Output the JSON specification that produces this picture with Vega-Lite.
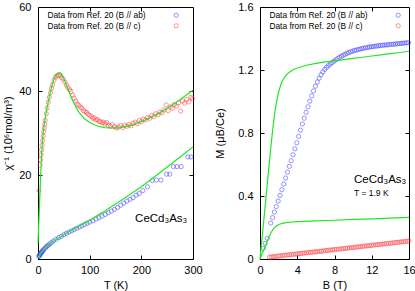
{
  "$schema": "https://vega.github.io/schema/vega-lite/v6.json",
  "padding": {"left": 2, "top": 0, "right": 2, "bottom": 2},
  "config": {
    "font": "Liberation Sans",
    "view": {"stroke": "#000", "strokeWidth": 1},
    "axis": {"domain": false, "grid": false, "tickColor": "#000", "tickSize": -4, "tickWidth": 1, "labelFontSize": 11, "labelColor": "#000", "titleFontSize": 11, "titleFontWeight": "normal", "titleColor": "#000", "labelFlush": false, "labelOverlap": false},
    "legend": {"orient": "none", "title": null, "labelFontSize": 8.4, "labelColor": "#000", "symbolStrokeWidth": 0.8, "symbolSize": 18, "labelOffset": -133, "rowPadding": 1.6, "labelLimit": 0, "symbolType": "circle"}
  },
  "datasets": {
    "note": [{"n": 1}],
    "chiPts": [
      {"T": 1.8, "chi": 0.6, "s": "Data from Ref. 20 (B // ab)"},
      {"T": 2.5, "chi": 0.8, "s": "Data from Ref. 20 (B // ab)"},
      {"T": 3, "chi": 0.9, "s": "Data from Ref. 20 (B // ab)"},
      {"T": 4, "chi": 1.1, "s": "Data from Ref. 20 (B // ab)"},
      {"T": 5, "chi": 1.3, "s": "Data from Ref. 20 (B // ab)"},
      {"T": 6, "chi": 1.5, "s": "Data from Ref. 20 (B // ab)"},
      {"T": 7, "chi": 1.6, "s": "Data from Ref. 20 (B // ab)"},
      {"T": 8, "chi": 1.8, "s": "Data from Ref. 20 (B // ab)"},
      {"T": 9, "chi": 1.9, "s": "Data from Ref. 20 (B // ab)"},
      {"T": 10, "chi": 2.1, "s": "Data from Ref. 20 (B // ab)"},
      {"T": 12, "chi": 2.4, "s": "Data from Ref. 20 (B // ab)"},
      {"T": 14, "chi": 2.6, "s": "Data from Ref. 20 (B // ab)"},
      {"T": 16, "chi": 2.9, "s": "Data from Ref. 20 (B // ab)"},
      {"T": 18, "chi": 3.1, "s": "Data from Ref. 20 (B // ab)"},
      {"T": 20, "chi": 3.3, "s": "Data from Ref. 20 (B // ab)"},
      {"T": 23, "chi": 3.6, "s": "Data from Ref. 20 (B // ab)"},
      {"T": 26, "chi": 3.9, "s": "Data from Ref. 20 (B // ab)"},
      {"T": 30, "chi": 4.3, "s": "Data from Ref. 20 (B // ab)"},
      {"T": 35, "chi": 4.7, "s": "Data from Ref. 20 (B // ab)"},
      {"T": 40, "chi": 5.1, "s": "Data from Ref. 20 (B // ab)"},
      {"T": 45, "chi": 5.4, "s": "Data from Ref. 20 (B // ab)"},
      {"T": 50, "chi": 5.8, "s": "Data from Ref. 20 (B // ab)"},
      {"T": 55, "chi": 6.1, "s": "Data from Ref. 20 (B // ab)"},
      {"T": 60, "chi": 6.4, "s": "Data from Ref. 20 (B // ab)"},
      {"T": 65, "chi": 6.7, "s": "Data from Ref. 20 (B // ab)"},
      {"T": 70, "chi": 7.0, "s": "Data from Ref. 20 (B // ab)"},
      {"T": 75, "chi": 7.3, "s": "Data from Ref. 20 (B // ab)"},
      {"T": 80, "chi": 7.6, "s": "Data from Ref. 20 (B // ab)"},
      {"T": 85, "chi": 7.9, "s": "Data from Ref. 20 (B // ab)"},
      {"T": 90, "chi": 8.2, "s": "Data from Ref. 20 (B // ab)"},
      {"T": 95, "chi": 8.5, "s": "Data from Ref. 20 (B // ab)"},
      {"T": 100, "chi": 8.8, "s": "Data from Ref. 20 (B // ab)"},
      {"T": 106, "chi": 9.1, "s": "Data from Ref. 20 (B // ab)"},
      {"T": 112, "chi": 9.5, "s": "Data from Ref. 20 (B // ab)"},
      {"T": 118, "chi": 9.8, "s": "Data from Ref. 20 (B // ab)"},
      {"T": 124, "chi": 10.2, "s": "Data from Ref. 20 (B // ab)"},
      {"T": 130, "chi": 10.6, "s": "Data from Ref. 20 (B // ab)"},
      {"T": 136, "chi": 11.0, "s": "Data from Ref. 20 (B // ab)"},
      {"T": 142, "chi": 11.4, "s": "Data from Ref. 20 (B // ab)"},
      {"T": 148, "chi": 11.8, "s": "Data from Ref. 20 (B // ab)"},
      {"T": 154, "chi": 12.3, "s": "Data from Ref. 20 (B // ab)"},
      {"T": 160, "chi": 12.8, "s": "Data from Ref. 20 (B // ab)"},
      {"T": 166, "chi": 13.3, "s": "Data from Ref. 20 (B // ab)"},
      {"T": 172, "chi": 13.8, "s": "Data from Ref. 20 (B // ab)"},
      {"T": 178, "chi": 14.2, "s": "Data from Ref. 20 (B // ab)"},
      {"T": 184, "chi": 14.6, "s": "Data from Ref. 20 (B // ab)"},
      {"T": 190, "chi": 15.2, "s": "Data from Ref. 20 (B // ab)"},
      {"T": 196, "chi": 15.6, "s": "Data from Ref. 20 (B // ab)"},
      {"T": 203, "chi": 16.3, "s": "Data from Ref. 20 (B // ab)"},
      {"T": 212, "chi": 17.2, "s": "Data from Ref. 20 (B // ab)"},
      {"T": 221, "chi": 18.7, "s": "Data from Ref. 20 (B // ab)"},
      {"T": 229, "chi": 18.8, "s": "Data from Ref. 20 (B // ab)"},
      {"T": 238, "chi": 18.8, "s": "Data from Ref. 20 (B // ab)"},
      {"T": 249, "chi": 20.2, "s": "Data from Ref. 20 (B // ab)"},
      {"T": 255, "chi": 20.2, "s": "Data from Ref. 20 (B // ab)"},
      {"T": 262, "chi": 22.0, "s": "Data from Ref. 20 (B // ab)"},
      {"T": 269, "chi": 22.0, "s": "Data from Ref. 20 (B // ab)"},
      {"T": 277, "chi": 22.0, "s": "Data from Ref. 20 (B // ab)"},
      {"T": 290, "chi": 24.3, "s": "Data from Ref. 20 (B // ab)"},
      {"T": 296, "chi": 24.3, "s": "Data from Ref. 20 (B // ab)"},
      {"T": 2, "chi": 16.3, "s": "Data from Ref. 20 (B // c)"},
      {"T": 4, "chi": 22.4, "s": "Data from Ref. 20 (B // c)"},
      {"T": 5, "chi": 23.6, "s": "Data from Ref. 20 (B // c)"},
      {"T": 6, "chi": 24.8, "s": "Data from Ref. 20 (B // c)"},
      {"T": 7, "chi": 26.0, "s": "Data from Ref. 20 (B // c)"},
      {"T": 8, "chi": 27.1, "s": "Data from Ref. 20 (B // c)"},
      {"T": 9, "chi": 28.2, "s": "Data from Ref. 20 (B // c)"},
      {"T": 10, "chi": 29.3, "s": "Data from Ref. 20 (B // c)"},
      {"T": 11, "chi": 30.3, "s": "Data from Ref. 20 (B // c)"},
      {"T": 12, "chi": 31.2, "s": "Data from Ref. 20 (B // c)"},
      {"T": 13, "chi": 32.1, "s": "Data from Ref. 20 (B // c)"},
      {"T": 14, "chi": 33.0, "s": "Data from Ref. 20 (B // c)"},
      {"T": 16, "chi": 34.6, "s": "Data from Ref. 20 (B // c)"},
      {"T": 18, "chi": 36.0, "s": "Data from Ref. 20 (B // c)"},
      {"T": 20, "chi": 37.3, "s": "Data from Ref. 20 (B // c)"},
      {"T": 22, "chi": 38.5, "s": "Data from Ref. 20 (B // c)"},
      {"T": 24, "chi": 39.6, "s": "Data from Ref. 20 (B // c)"},
      {"T": 26, "chi": 40.6, "s": "Data from Ref. 20 (B // c)"},
      {"T": 28, "chi": 41.5, "s": "Data from Ref. 20 (B // c)"},
      {"T": 31, "chi": 42.6, "s": "Data from Ref. 20 (B // c)"},
      {"T": 34, "chi": 43.3, "s": "Data from Ref. 20 (B // c)"},
      {"T": 37, "chi": 43.7, "s": "Data from Ref. 20 (B // c)"},
      {"T": 40, "chi": 43.6, "s": "Data from Ref. 20 (B // c)"},
      {"T": 43, "chi": 43.8, "s": "Data from Ref. 20 (B // c)"},
      {"T": 46, "chi": 43.2, "s": "Data from Ref. 20 (B // c)"},
      {"T": 49, "chi": 42.8, "s": "Data from Ref. 20 (B // c)"},
      {"T": 52, "chi": 42.1, "s": "Data from Ref. 20 (B // c)"},
      {"T": 55, "chi": 41.4, "s": "Data from Ref. 20 (B // c)"},
      {"T": 58, "chi": 40.8, "s": "Data from Ref. 20 (B // c)"},
      {"T": 61, "chi": 40.3, "s": "Data from Ref. 20 (B // c)"},
      {"T": 64, "chi": 39.9, "s": "Data from Ref. 20 (B // c)"},
      {"T": 67, "chi": 39.0, "s": "Data from Ref. 20 (B // c)"},
      {"T": 70, "chi": 38.3, "s": "Data from Ref. 20 (B // c)"},
      {"T": 73, "chi": 37.6, "s": "Data from Ref. 20 (B // c)"},
      {"T": 76, "chi": 36.9, "s": "Data from Ref. 20 (B // c)"},
      {"T": 79, "chi": 36.6, "s": "Data from Ref. 20 (B // c)"},
      {"T": 82, "chi": 36.2, "s": "Data from Ref. 20 (B // c)"},
      {"T": 85, "chi": 35.9, "s": "Data from Ref. 20 (B // c)"},
      {"T": 88, "chi": 35.3, "s": "Data from Ref. 20 (B // c)"},
      {"T": 91, "chi": 35.1, "s": "Data from Ref. 20 (B // c)"},
      {"T": 94, "chi": 34.9, "s": "Data from Ref. 20 (B // c)"},
      {"T": 97, "chi": 34.5, "s": "Data from Ref. 20 (B // c)"},
      {"T": 100, "chi": 34.2, "s": "Data from Ref. 20 (B // c)"},
      {"T": 103, "chi": 33.9, "s": "Data from Ref. 20 (B // c)"},
      {"T": 106, "chi": 33.5, "s": "Data from Ref. 20 (B // c)"},
      {"T": 109, "chi": 33.6, "s": "Data from Ref. 20 (B // c)"},
      {"T": 112, "chi": 33.1, "s": "Data from Ref. 20 (B // c)"},
      {"T": 115, "chi": 33.2, "s": "Data from Ref. 20 (B // c)"},
      {"T": 118, "chi": 32.8, "s": "Data from Ref. 20 (B // c)"},
      {"T": 121, "chi": 32.7, "s": "Data from Ref. 20 (B // c)"},
      {"T": 124, "chi": 32.4, "s": "Data from Ref. 20 (B // c)"},
      {"T": 127, "chi": 32.6, "s": "Data from Ref. 20 (B // c)"},
      {"T": 130, "chi": 32.2, "s": "Data from Ref. 20 (B // c)"},
      {"T": 133, "chi": 32.5, "s": "Data from Ref. 20 (B // c)"},
      {"T": 136, "chi": 31.9, "s": "Data from Ref. 20 (B // c)"},
      {"T": 140, "chi": 31.6, "s": "Data from Ref. 20 (B // c)"},
      {"T": 144, "chi": 32.0, "s": "Data from Ref. 20 (B // c)"},
      {"T": 148, "chi": 31.5, "s": "Data from Ref. 20 (B // c)"},
      {"T": 152, "chi": 31.2, "s": "Data from Ref. 20 (B // c)"},
      {"T": 156, "chi": 31.4, "s": "Data from Ref. 20 (B // c)"},
      {"T": 160, "chi": 31.8, "s": "Data from Ref. 20 (B // c)"},
      {"T": 164, "chi": 31.3, "s": "Data from Ref. 20 (B // c)"},
      {"T": 168, "chi": 31.9, "s": "Data from Ref. 20 (B // c)"},
      {"T": 172, "chi": 31.6, "s": "Data from Ref. 20 (B // c)"},
      {"T": 176, "chi": 32.0, "s": "Data from Ref. 20 (B // c)"},
      {"T": 180, "chi": 31.7, "s": "Data from Ref. 20 (B // c)"},
      {"T": 184, "chi": 32.3, "s": "Data from Ref. 20 (B // c)"},
      {"T": 188, "chi": 32.6, "s": "Data from Ref. 20 (B // c)"},
      {"T": 192, "chi": 32.2, "s": "Data from Ref. 20 (B // c)"},
      {"T": 196, "chi": 33.0, "s": "Data from Ref. 20 (B // c)"},
      {"T": 200, "chi": 32.7, "s": "Data from Ref. 20 (B // c)"},
      {"T": 204, "chi": 33.3, "s": "Data from Ref. 20 (B // c)"},
      {"T": 208, "chi": 33.1, "s": "Data from Ref. 20 (B // c)"},
      {"T": 212, "chi": 33.7, "s": "Data from Ref. 20 (B // c)"},
      {"T": 216, "chi": 33.5, "s": "Data from Ref. 20 (B // c)"},
      {"T": 220, "chi": 34.2, "s": "Data from Ref. 20 (B // c)"},
      {"T": 224, "chi": 33.9, "s": "Data from Ref. 20 (B // c)"},
      {"T": 228, "chi": 34.6, "s": "Data from Ref. 20 (B // c)"},
      {"T": 232, "chi": 34.3, "s": "Data from Ref. 20 (B // c)"},
      {"T": 236, "chi": 35.0, "s": "Data from Ref. 20 (B // c)"},
      {"T": 240, "chi": 34.8, "s": "Data from Ref. 20 (B // c)"},
      {"T": 244, "chi": 35.5, "s": "Data from Ref. 20 (B // c)"},
      {"T": 248, "chi": 36.7, "s": "Data from Ref. 20 (B // c)"},
      {"T": 252, "chi": 35.3, "s": "Data from Ref. 20 (B // c)"},
      {"T": 256, "chi": 36.2, "s": "Data from Ref. 20 (B // c)"},
      {"T": 260, "chi": 35.9, "s": "Data from Ref. 20 (B // c)"},
      {"T": 264, "chi": 36.8, "s": "Data from Ref. 20 (B // c)"},
      {"T": 268, "chi": 36.4, "s": "Data from Ref. 20 (B // c)"},
      {"T": 272, "chi": 37.2, "s": "Data from Ref. 20 (B // c)"},
      {"T": 276, "chi": 35.2, "s": "Data from Ref. 20 (B // c)"},
      {"T": 280, "chi": 37.6, "s": "Data from Ref. 20 (B // c)"},
      {"T": 284, "chi": 37.1, "s": "Data from Ref. 20 (B // c)"},
      {"T": 288, "chi": 38.0, "s": "Data from Ref. 20 (B // c)"},
      {"T": 292, "chi": 37.4, "s": "Data from Ref. 20 (B // c)"},
      {"T": 296, "chi": 38.5, "s": "Data from Ref. 20 (B // c)"},
      {"T": 299, "chi": 38.2, "s": "Data from Ref. 20 (B // c)"}
    ],
    "chiFit": [
      {"T": 0, "chi": 0.3, "c": "ab"}, {"T": 2, "chi": 0.8, "c": "ab"}, {"T": 5, "chi": 1.4, "c": "ab"}, {"T": 10, "chi": 2.2, "c": "ab"},
      {"T": 20, "chi": 3.3, "c": "ab"}, {"T": 30, "chi": 4.2, "c": "ab"}, {"T": 40, "chi": 5.0, "c": "ab"}, {"T": 50, "chi": 5.8, "c": "ab"},
      {"T": 60, "chi": 6.5, "c": "ab"}, {"T": 70, "chi": 7.2, "c": "ab"}, {"T": 80, "chi": 7.9, "c": "ab"}, {"T": 90, "chi": 8.6, "c": "ab"},
      {"T": 100, "chi": 9.2, "c": "ab"}, {"T": 125, "chi": 11.1, "c": "ab"}, {"T": 150, "chi": 13.1, "c": "ab"}, {"T": 175, "chi": 15.1, "c": "ab"},
      {"T": 200, "chi": 17.2, "c": "ab"}, {"T": 225, "chi": 19.5, "c": "ab"}, {"T": 250, "chi": 21.9, "c": "ab"}, {"T": 275, "chi": 24.3, "c": "ab"},
      {"T": 300, "chi": 26.7, "c": "ab"},
      {"T": 0, "chi": 3.7, "c": "c"}, {"T": 1, "chi": 6.8, "c": "c"}, {"T": 2, "chi": 10.0, "c": "c"}, {"T": 3, "chi": 13.2, "c": "c"},
      {"T": 4, "chi": 16.3, "c": "c"}, {"T": 5, "chi": 19.4, "c": "c"}, {"T": 6, "chi": 22.3, "c": "c"}, {"T": 7, "chi": 24.9, "c": "c"},
      {"T": 8, "chi": 27.0, "c": "c"}, {"T": 9, "chi": 28.6, "c": "c"}, {"T": 10, "chi": 29.9, "c": "c"}, {"T": 12, "chi": 31.9, "c": "c"},
      {"T": 15, "chi": 34.3, "c": "c"}, {"T": 18, "chi": 36.3, "c": "c"}, {"T": 21, "chi": 38.1, "c": "c"}, {"T": 24, "chi": 39.8, "c": "c"},
      {"T": 27, "chi": 41.3, "c": "c"}, {"T": 30, "chi": 42.5, "c": "c"}, {"T": 33, "chi": 43.4, "c": "c"}, {"T": 36, "chi": 44.0, "c": "c"},
      {"T": 39, "chi": 44.3, "c": "c"}, {"T": 42, "chi": 44.3, "c": "c"}, {"T": 45, "chi": 44.0, "c": "c"}, {"T": 48, "chi": 43.4, "c": "c"},
      {"T": 51, "chi": 42.6, "c": "c"}, {"T": 54, "chi": 41.7, "c": "c"}, {"T": 57, "chi": 40.7, "c": "c"}, {"T": 60, "chi": 39.8, "c": "c"},
      {"T": 65, "chi": 38.3, "c": "c"}, {"T": 70, "chi": 37.0, "c": "c"}, {"T": 75, "chi": 35.8, "c": "c"}, {"T": 80, "chi": 34.8, "c": "c"},
      {"T": 90, "chi": 33.4, "c": "c"}, {"T": 100, "chi": 32.5, "c": "c"}, {"T": 110, "chi": 31.9, "c": "c"}, {"T": 120, "chi": 31.5, "c": "c"},
      {"T": 130, "chi": 31.3, "c": "c"}, {"T": 140, "chi": 31.2, "c": "c"}, {"T": 150, "chi": 31.2, "c": "c"}, {"T": 160, "chi": 31.3, "c": "c"},
      {"T": 170, "chi": 31.5, "c": "c"}, {"T": 180, "chi": 31.8, "c": "c"}, {"T": 190, "chi": 32.2, "c": "c"}, {"T": 200, "chi": 32.7, "c": "c"},
      {"T": 210, "chi": 33.2, "c": "c"}, {"T": 220, "chi": 33.8, "c": "c"}, {"T": 230, "chi": 34.4, "c": "c"}, {"T": 240, "chi": 35.1, "c": "c"},
      {"T": 250, "chi": 35.9, "c": "c"}, {"T": 260, "chi": 36.7, "c": "c"}, {"T": 270, "chi": 37.5, "c": "c"}, {"T": 280, "chi": 38.4, "c": "c"},
      {"T": 290, "chi": 39.3, "c": "c"}, {"T": 300, "chi": 40.2, "c": "c"}
    ],
    "magPts": [
      {"B": 0.35, "M": 0.067, "s": "Data from Ref. 20 (B // ab)"}, {"B": 0.55, "M": 0.099, "s": "Data from Ref. 20 (B // ab)"}, {"B": 0.78, "M": 0.131, "s": "Data from Ref. 20 (B // ab)"},
      {"B": 1.15, "M": 0.228, "s": "Data from Ref. 20 (B // ab)"}, {"B": 1.35, "M": 0.263, "s": "Data from Ref. 20 (B // ab)"}, {"B": 1.55, "M": 0.298, "s": "Data from Ref. 20 (B // ab)"},
      {"B": 1.75, "M": 0.333, "s": "Data from Ref. 20 (B // ab)"}, {"B": 1.95, "M": 0.368, "s": "Data from Ref. 20 (B // ab)"}, {"B": 2.15, "M": 0.404, "s": "Data from Ref. 20 (B // ab)"},
      {"B": 2.35, "M": 0.440, "s": "Data from Ref. 20 (B // ab)"}, {"B": 2.55, "M": 0.476, "s": "Data from Ref. 20 (B // ab)"}, {"B": 2.75, "M": 0.514, "s": "Data from Ref. 20 (B // ab)"},
      {"B": 2.95, "M": 0.551, "s": "Data from Ref. 20 (B // ab)"}, {"B": 3.15, "M": 0.588, "s": "Data from Ref. 20 (B // ab)"}, {"B": 3.35, "M": 0.624, "s": "Data from Ref. 20 (B // ab)"},
      {"B": 3.55, "M": 0.662, "s": "Data from Ref. 20 (B // ab)"}, {"B": 3.75, "M": 0.700, "s": "Data from Ref. 20 (B // ab)"}, {"B": 3.95, "M": 0.738, "s": "Data from Ref. 20 (B // ab)"},
      {"B": 4.15, "M": 0.778, "s": "Data from Ref. 20 (B // ab)"}, {"B": 4.35, "M": 0.818, "s": "Data from Ref. 20 (B // ab)"}, {"B": 4.55, "M": 0.857, "s": "Data from Ref. 20 (B // ab)"},
      {"B": 4.75, "M": 0.894, "s": "Data from Ref. 20 (B // ab)"}, {"B": 4.95, "M": 0.931, "s": "Data from Ref. 20 (B // ab)"}, {"B": 5.15, "M": 0.966, "s": "Data from Ref. 20 (B // ab)"},
      {"B": 5.35, "M": 1.002, "s": "Data from Ref. 20 (B // ab)"}, {"B": 5.55, "M": 1.036, "s": "Data from Ref. 20 (B // ab)"}, {"B": 5.75, "M": 1.067, "s": "Data from Ref. 20 (B // ab)"},
      {"B": 5.95, "M": 1.097, "s": "Data from Ref. 20 (B // ab)"}, {"B": 6.15, "M": 1.124, "s": "Data from Ref. 20 (B // ab)"}, {"B": 6.35, "M": 1.148, "s": "Data from Ref. 20 (B // ab)"},
      {"B": 6.55, "M": 1.170, "s": "Data from Ref. 20 (B // ab)"}, {"B": 6.75, "M": 1.188, "s": "Data from Ref. 20 (B // ab)"}, {"B": 6.95, "M": 1.204, "s": "Data from Ref. 20 (B // ab)"},
      {"B": 7.15, "M": 1.217, "s": "Data from Ref. 20 (B // ab)"}, {"B": 7.35, "M": 1.228, "s": "Data from Ref. 20 (B // ab)"}, {"B": 7.55, "M": 1.238, "s": "Data from Ref. 20 (B // ab)"},
      {"B": 7.75, "M": 1.247, "s": "Data from Ref. 20 (B // ab)"}, {"B": 7.95, "M": 1.256, "s": "Data from Ref. 20 (B // ab)"}, {"B": 8.15, "M": 1.265, "s": "Data from Ref. 20 (B // ab)"},
      {"B": 8.35, "M": 1.273, "s": "Data from Ref. 20 (B // ab)"}, {"B": 8.55, "M": 1.281, "s": "Data from Ref. 20 (B // ab)"}, {"B": 8.75, "M": 1.288, "s": "Data from Ref. 20 (B // ab)"},
      {"B": 8.95, "M": 1.294, "s": "Data from Ref. 20 (B // ab)"}, {"B": 9.15, "M": 1.300, "s": "Data from Ref. 20 (B // ab)"}, {"B": 9.35, "M": 1.306, "s": "Data from Ref. 20 (B // ab)"},
      {"B": 9.55, "M": 1.311, "s": "Data from Ref. 20 (B // ab)"}, {"B": 9.75, "M": 1.316, "s": "Data from Ref. 20 (B // ab)"}, {"B": 9.95, "M": 1.320, "s": "Data from Ref. 20 (B // ab)"},
      {"B": 10.15, "M": 1.324, "s": "Data from Ref. 20 (B // ab)"}, {"B": 10.35, "M": 1.327, "s": "Data from Ref. 20 (B // ab)"}, {"B": 10.55, "M": 1.330, "s": "Data from Ref. 20 (B // ab)"},
      {"B": 10.75, "M": 1.333, "s": "Data from Ref. 20 (B // ab)"}, {"B": 10.95, "M": 1.336, "s": "Data from Ref. 20 (B // ab)"}, {"B": 11.15, "M": 1.339, "s": "Data from Ref. 20 (B // ab)"},
      {"B": 11.35, "M": 1.341, "s": "Data from Ref. 20 (B // ab)"}, {"B": 11.55, "M": 1.343, "s": "Data from Ref. 20 (B // ab)"}, {"B": 11.75, "M": 1.346, "s": "Data from Ref. 20 (B // ab)"},
      {"B": 11.95, "M": 1.348, "s": "Data from Ref. 20 (B // ab)"}, {"B": 12.15, "M": 1.349, "s": "Data from Ref. 20 (B // ab)"}, {"B": 12.35, "M": 1.351, "s": "Data from Ref. 20 (B // ab)"},
      {"B": 12.55, "M": 1.352, "s": "Data from Ref. 20 (B // ab)"}, {"B": 12.75, "M": 1.354, "s": "Data from Ref. 20 (B // ab)"}, {"B": 12.95, "M": 1.356, "s": "Data from Ref. 20 (B // ab)"},
      {"B": 13.15, "M": 1.357, "s": "Data from Ref. 20 (B // ab)"}, {"B": 13.35, "M": 1.358, "s": "Data from Ref. 20 (B // ab)"}, {"B": 13.55, "M": 1.359, "s": "Data from Ref. 20 (B // ab)"},
      {"B": 13.75, "M": 1.360, "s": "Data from Ref. 20 (B // ab)"}, {"B": 13.95, "M": 1.362, "s": "Data from Ref. 20 (B // ab)"}, {"B": 14.15, "M": 1.363, "s": "Data from Ref. 20 (B // ab)"},
      {"B": 14.35, "M": 1.364, "s": "Data from Ref. 20 (B // ab)"}, {"B": 14.55, "M": 1.365, "s": "Data from Ref. 20 (B // ab)"}, {"B": 14.75, "M": 1.366, "s": "Data from Ref. 20 (B // ab)"},
      {"B": 14.95, "M": 1.368, "s": "Data from Ref. 20 (B // ab)"}, {"B": 15.15, "M": 1.369, "s": "Data from Ref. 20 (B // ab)"}, {"B": 15.35, "M": 1.370, "s": "Data from Ref. 20 (B // ab)"},
      {"B": 15.55, "M": 1.371, "s": "Data from Ref. 20 (B // ab)"}, {"B": 15.75, "M": 1.372, "s": "Data from Ref. 20 (B // ab)"}, {"B": 15.95, "M": 1.374, "s": "Data from Ref. 20 (B // ab)"},
      {"B": 1.0, "M": 0.012, "s": "Data from Ref. 20 (B // c)"}, {"B": 1.2, "M": 0.013, "s": "Data from Ref. 20 (B // c)"}, {"B": 1.4, "M": 0.015, "s": "Data from Ref. 20 (B // c)"},
      {"B": 1.6, "M": 0.016, "s": "Data from Ref. 20 (B // c)"}, {"B": 1.8, "M": 0.017, "s": "Data from Ref. 20 (B // c)"}, {"B": 2.0, "M": 0.019, "s": "Data from Ref. 20 (B // c)"},
      {"B": 2.2, "M": 0.020, "s": "Data from Ref. 20 (B // c)"}, {"B": 2.4, "M": 0.022, "s": "Data from Ref. 20 (B // c)"}, {"B": 2.6, "M": 0.023, "s": "Data from Ref. 20 (B // c)"},
      {"B": 2.8, "M": 0.024, "s": "Data from Ref. 20 (B // c)"}, {"B": 3.0, "M": 0.026, "s": "Data from Ref. 20 (B // c)"}, {"B": 3.2, "M": 0.027, "s": "Data from Ref. 20 (B // c)"},
      {"B": 3.4, "M": 0.028, "s": "Data from Ref. 20 (B // c)"}, {"B": 3.6, "M": 0.030, "s": "Data from Ref. 20 (B // c)"}, {"B": 3.8, "M": 0.031, "s": "Data from Ref. 20 (B // c)"},
      {"B": 4.0, "M": 0.032, "s": "Data from Ref. 20 (B // c)"}, {"B": 4.2, "M": 0.034, "s": "Data from Ref. 20 (B // c)"}, {"B": 4.4, "M": 0.035, "s": "Data from Ref. 20 (B // c)"},
      {"B": 4.6, "M": 0.037, "s": "Data from Ref. 20 (B // c)"}, {"B": 4.8, "M": 0.038, "s": "Data from Ref. 20 (B // c)"}, {"B": 5.0, "M": 0.039, "s": "Data from Ref. 20 (B // c)"},
      {"B": 5.2, "M": 0.041, "s": "Data from Ref. 20 (B // c)"}, {"B": 5.4, "M": 0.042, "s": "Data from Ref. 20 (B // c)"}, {"B": 5.6, "M": 0.043, "s": "Data from Ref. 20 (B // c)"},
      {"B": 5.8, "M": 0.045, "s": "Data from Ref. 20 (B // c)"}, {"B": 6.0, "M": 0.046, "s": "Data from Ref. 20 (B // c)"}, {"B": 6.2, "M": 0.047, "s": "Data from Ref. 20 (B // c)"},
      {"B": 6.4, "M": 0.049, "s": "Data from Ref. 20 (B // c)"}, {"B": 6.6, "M": 0.050, "s": "Data from Ref. 20 (B // c)"}, {"B": 6.8, "M": 0.051, "s": "Data from Ref. 20 (B // c)"},
      {"B": 7.0, "M": 0.053, "s": "Data from Ref. 20 (B // c)"}, {"B": 7.2, "M": 0.054, "s": "Data from Ref. 20 (B // c)"}, {"B": 7.4, "M": 0.056, "s": "Data from Ref. 20 (B // c)"},
      {"B": 7.6, "M": 0.057, "s": "Data from Ref. 20 (B // c)"}, {"B": 7.8, "M": 0.058, "s": "Data from Ref. 20 (B // c)"}, {"B": 8.0, "M": 0.060, "s": "Data from Ref. 20 (B // c)"},
      {"B": 8.2, "M": 0.061, "s": "Data from Ref. 20 (B // c)"}, {"B": 8.4, "M": 0.062, "s": "Data from Ref. 20 (B // c)"}, {"B": 8.6, "M": 0.064, "s": "Data from Ref. 20 (B // c)"},
      {"B": 8.8, "M": 0.065, "s": "Data from Ref. 20 (B // c)"}, {"B": 9.0, "M": 0.066, "s": "Data from Ref. 20 (B // c)"}, {"B": 9.2, "M": 0.068, "s": "Data from Ref. 20 (B // c)"},
      {"B": 9.4, "M": 0.069, "s": "Data from Ref. 20 (B // c)"}, {"B": 9.6, "M": 0.071, "s": "Data from Ref. 20 (B // c)"}, {"B": 9.8, "M": 0.072, "s": "Data from Ref. 20 (B // c)"},
      {"B": 10.0, "M": 0.073, "s": "Data from Ref. 20 (B // c)"}, {"B": 10.2, "M": 0.075, "s": "Data from Ref. 20 (B // c)"}, {"B": 10.4, "M": 0.076, "s": "Data from Ref. 20 (B // c)"},
      {"B": 10.6, "M": 0.077, "s": "Data from Ref. 20 (B // c)"}, {"B": 10.8, "M": 0.079, "s": "Data from Ref. 20 (B // c)"}, {"B": 11.0, "M": 0.080, "s": "Data from Ref. 20 (B // c)"},
      {"B": 11.2, "M": 0.081, "s": "Data from Ref. 20 (B // c)"}, {"B": 11.4, "M": 0.083, "s": "Data from Ref. 20 (B // c)"}, {"B": 11.6, "M": 0.084, "s": "Data from Ref. 20 (B // c)"},
      {"B": 11.8, "M": 0.085, "s": "Data from Ref. 20 (B // c)"}, {"B": 12.0, "M": 0.087, "s": "Data from Ref. 20 (B // c)"}, {"B": 12.2, "M": 0.088, "s": "Data from Ref. 20 (B // c)"},
      {"B": 12.4, "M": 0.090, "s": "Data from Ref. 20 (B // c)"}, {"B": 12.6, "M": 0.091, "s": "Data from Ref. 20 (B // c)"}, {"B": 12.8, "M": 0.092, "s": "Data from Ref. 20 (B // c)"},
      {"B": 13.0, "M": 0.094, "s": "Data from Ref. 20 (B // c)"}, {"B": 13.2, "M": 0.095, "s": "Data from Ref. 20 (B // c)"}, {"B": 13.4, "M": 0.096, "s": "Data from Ref. 20 (B // c)"},
      {"B": 13.6, "M": 0.098, "s": "Data from Ref. 20 (B // c)"}, {"B": 13.8, "M": 0.099, "s": "Data from Ref. 20 (B // c)"}, {"B": 14.0, "M": 0.100, "s": "Data from Ref. 20 (B // c)"},
      {"B": 14.2, "M": 0.102, "s": "Data from Ref. 20 (B // c)"}, {"B": 14.4, "M": 0.103, "s": "Data from Ref. 20 (B // c)"}, {"B": 14.6, "M": 0.105, "s": "Data from Ref. 20 (B // c)"},
      {"B": 14.8, "M": 0.106, "s": "Data from Ref. 20 (B // c)"}, {"B": 15.0, "M": 0.107, "s": "Data from Ref. 20 (B // c)"}, {"B": 15.2, "M": 0.109, "s": "Data from Ref. 20 (B // c)"},
      {"B": 15.4, "M": 0.110, "s": "Data from Ref. 20 (B // c)"}, {"B": 15.6, "M": 0.111, "s": "Data from Ref. 20 (B // c)"}, {"B": 15.8, "M": 0.113, "s": "Data from Ref. 20 (B // c)"},
      {"B": 16.0, "M": 0.114, "s": "Data from Ref. 20 (B // c)"}
    ],
    "magFit": [
      {"B": 0, "M": 0, "c": "ab"}, {"B": 0.2, "M": 0.12, "c": "ab"}, {"B": 0.4, "M": 0.24, "c": "ab"}, {"B": 0.6, "M": 0.365, "c": "ab"},
      {"B": 0.8, "M": 0.49, "c": "ab"}, {"B": 1.0, "M": 0.61, "c": "ab"}, {"B": 1.2, "M": 0.73, "c": "ab"}, {"B": 1.4, "M": 0.84, "c": "ab"},
      {"B": 1.6, "M": 0.935, "c": "ab"}, {"B": 1.8, "M": 1.005, "c": "ab"}, {"B": 2.0, "M": 1.06, "c": "ab"}, {"B": 2.2, "M": 1.10, "c": "ab"},
      {"B": 2.4, "M": 1.13, "c": "ab"}, {"B": 2.7, "M": 1.16, "c": "ab"}, {"B": 3.0, "M": 1.18, "c": "ab"}, {"B": 3.5, "M": 1.20, "c": "ab"},
      {"B": 4, "M": 1.213, "c": "ab"}, {"B": 5, "M": 1.23, "c": "ab"}, {"B": 6, "M": 1.242, "c": "ab"}, {"B": 7, "M": 1.251, "c": "ab"},
      {"B": 8, "M": 1.258, "c": "ab"}, {"B": 9, "M": 1.266, "c": "ab"}, {"B": 10, "M": 1.274, "c": "ab"}, {"B": 11, "M": 1.281, "c": "ab"},
      {"B": 12, "M": 1.289, "c": "ab"}, {"B": 13, "M": 1.296, "c": "ab"}, {"B": 14, "M": 1.304, "c": "ab"}, {"B": 15, "M": 1.311, "c": "ab"},
      {"B": 16, "M": 1.319, "c": "ab"},
      {"B": 0, "M": 0, "c": "c"}, {"B": 0.25, "M": 0.036, "c": "c"}, {"B": 0.5, "M": 0.072, "c": "c"}, {"B": 0.75, "M": 0.108, "c": "c"},
      {"B": 1.0, "M": 0.145, "c": "c"}, {"B": 1.25, "M": 0.174, "c": "c"}, {"B": 1.5, "M": 0.196, "c": "c"}, {"B": 1.75, "M": 0.209, "c": "c"},
      {"B": 2.0, "M": 0.218, "c": "c"}, {"B": 2.25, "M": 0.224, "c": "c"}, {"B": 2.5, "M": 0.228, "c": "c"}, {"B": 3, "M": 0.232, "c": "c"},
      {"B": 3.5, "M": 0.235, "c": "c"}, {"B": 4, "M": 0.237, "c": "c"}, {"B": 6, "M": 0.242, "c": "c"}, {"B": 8, "M": 0.246, "c": "c"},
      {"B": 10, "M": 0.251, "c": "c"}, {"B": 12, "M": 0.255, "c": "c"}, {"B": 14, "M": 0.259, "c": "c"}, {"B": 16, "M": 0.264, "c": "c"}
    ]
  },
  "hconcat": [
    {
      "width": 155,
      "height": 252,
      "layer": [
        {
          "data": {"name": "chiPts"},
          "mark": {"type": "point", "shape": "circle", "filled": false, "size": 18, "strokeWidth": 0.8},
          "encoding": {
            "x": {"field": "T", "type": "quantitative", "scale": {"domain": [0, 300], "nice": false}, "axis": {"values": [0, 100, 200, 300], "title": "T (K)", "labelPadding": 9, "titlePadding": 4}},
            "y": {"field": "chi", "type": "quantitative", "scale": {"domain": [0, 60], "nice": false}, "axis": {"values": [0, 20, 40, 60], "title": "χ⁻¹ (10⁶mol/m³)", "labelPadding": 11, "titlePadding": 5}},
            "color": {"field": "s", "type": "nominal", "scale": {"domain": ["Data from Ref. 20 (B // ab)", "Data from Ref. 20 (B // c)"], "range": ["#4040ff", "#ff4040"]}, "legend": {"title": null, "legendX": 134, "legendY": 4}}
          }
        },
        {
          "data": {"name": "chiFit"},
          "mark": {"type": "line", "color": "#22e622", "strokeWidth": 1.2},
          "encoding": {
            "x": {"field": "T", "type": "quantitative", "axis": {"orient": "top", "values": [100, 200], "labels": false, "title": null}},
            "y": {"field": "chi", "type": "quantitative", "axis": {"orient": "right", "values": [20, 40], "labels": false, "title": null}},
            "detail": {"field": "c"}
          }
        },
        {
          "data": {"name": "note"},
          "mark": {"type": "text", "align": "right", "baseline": "middle", "fontSize": 11.5, "color": "#000"},
          "encoding": {
            "x": {"datum": 289, "axis": null},
            "y": {"datum": 9.5, "axis": null},
            "text": {"value": "CeCd₃As₃"}
          }
        }
      ],
      "resolve": {"axis": {"x": "independent", "y": "independent"}}
    },
    {
      "width": 149,
      "height": 252,
      "layer": [
        {
          "data": {"name": "magPts"},
          "mark": {"type": "point", "shape": "circle", "filled": false, "size": 18, "strokeWidth": 0.8},
          "encoding": {
            "x": {"field": "B", "type": "quantitative", "scale": {"domain": [0, 16], "nice": false}, "axis": {"values": [0, 4, 8, 12, 16], "title": "B (T)", "labelPadding": 9, "titlePadding": 4}},
            "y": {"field": "M", "type": "quantitative", "scale": {"domain": [0, 1.6], "nice": false}, "axis": {"values": [0, 0.4, 0.8, 1.2, 1.6], "format": "~g", "title": "M (μB/Ce)", "labelPadding": 11, "titlePadding": 12}},
            "color": {"field": "s", "type": "nominal", "scale": {"domain": ["Data from Ref. 20 (B // ab)", "Data from Ref. 20 (B // c)"], "range": ["#4040ff", "#ff4040"]}, "legend": {"title": null, "legendX": 134, "legendY": 4}}
          }
        },
        {
          "data": {"name": "magFit"},
          "mark": {"type": "line", "color": "#22e622", "strokeWidth": 1.2},
          "encoding": {
            "x": {"field": "B", "type": "quantitative", "axis": {"orient": "top", "values": [4, 8, 12], "labels": false, "title": null}},
            "y": {"field": "M", "type": "quantitative", "axis": {"orient": "right", "values": [0.4, 0.8, 1.2], "labels": false, "title": null}},
            "detail": {"field": "c"}
          }
        },
        {
          "data": {"name": "note"},
          "mark": {"type": "text", "align": "left", "baseline": "middle", "fontSize": 11.5, "color": "#000"},
          "encoding": {
            "x": {"datum": 10.1, "axis": null},
            "y": {"datum": 0.503, "axis": null},
            "text": {"value": "CeCd₃As₃"}
          }
        },
        {
          "data": {"name": "note"},
          "mark": {"type": "text", "align": "left", "baseline": "middle", "fontSize": 8.5, "color": "#000"},
          "encoding": {
            "x": {"datum": 10.1, "axis": null},
            "y": {"datum": 0.416, "axis": null},
            "text": {"value": "T = 1.9 K"}
          }
        }
      ],
      "resolve": {"axis": {"x": "independent", "y": "independent"}}
    }
  ],
  "spacing": 11,
  "resolve": {"legend": {"color": "independent"}, "scale": {"color": "independent"}}
}
